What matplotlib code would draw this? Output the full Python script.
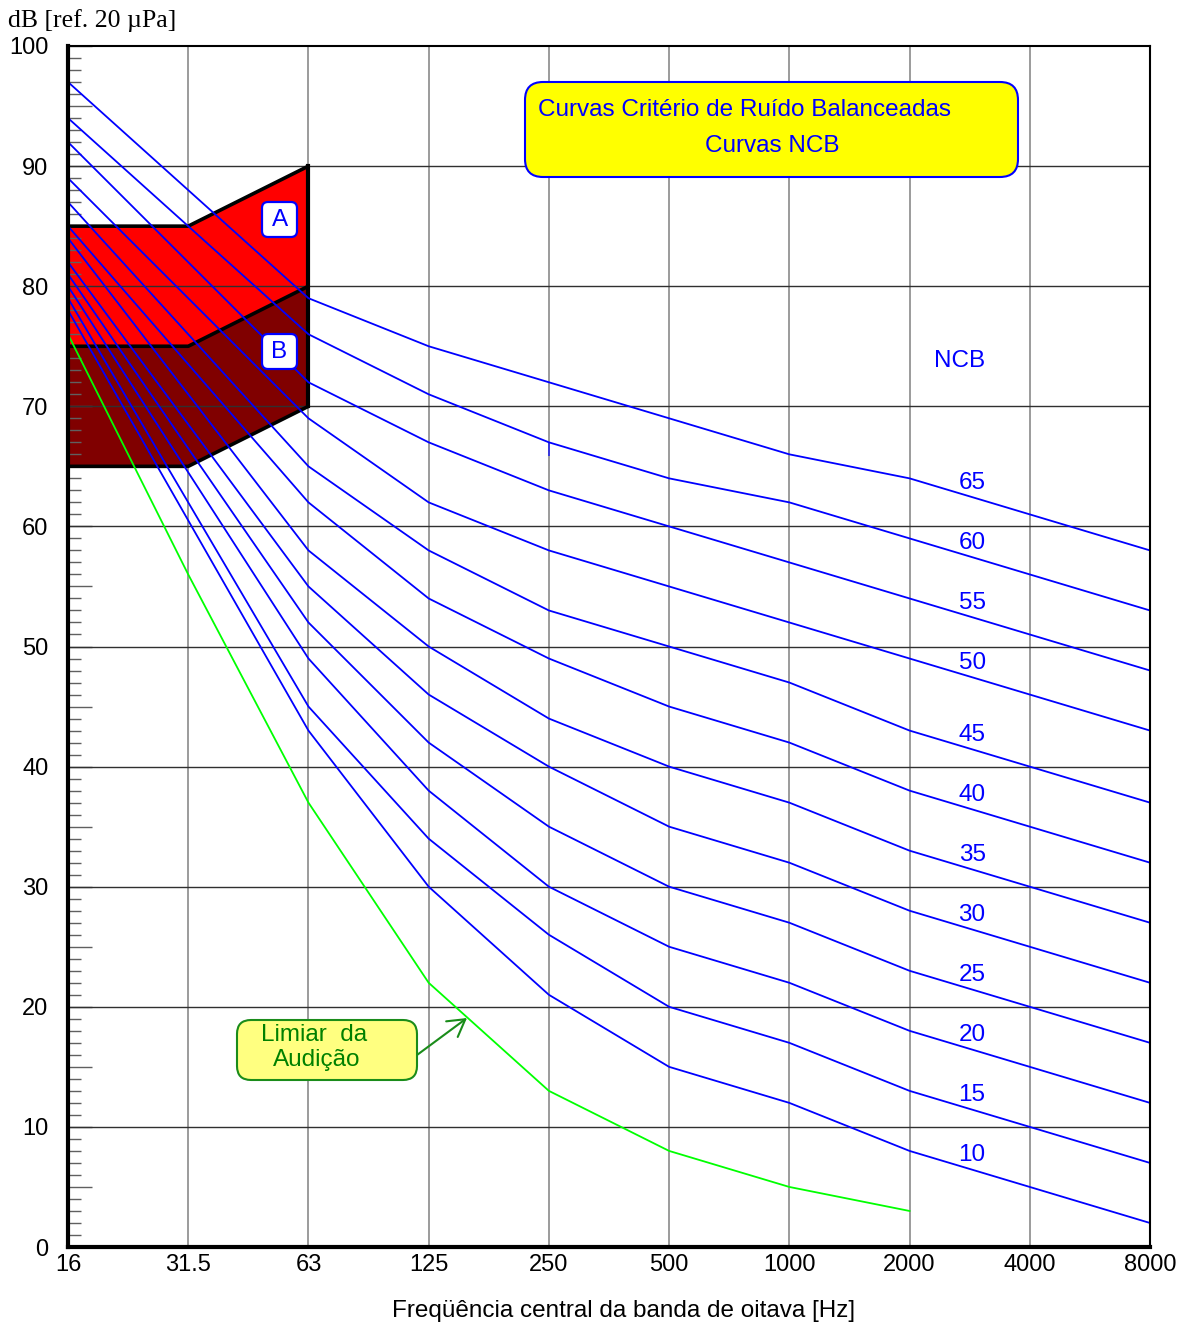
import matplotlib
matplotlib.use("Agg")
import matplotlib.pyplot as plt
import numpy as np
from matplotlib.patches import FancyBboxPatch, Polygon
from matplotlib.transforms import IdentityTransform
from matplotlib.ticker import MultipleLocator, FuncFormatter

# ---------------- data ----------------
freq_labels = ["16", "31.5", "63", "125", "250", "500", "1000", "2000", "4000", "8000"]
ncb_levels = [65, 60, 55, 50, 45, 40, 35, 30, 25, 20, 15, 10]
ncb65 = [97, 88, 79, 75, 72, 69, 66, 64, 61, 58]
ncb60 = [94, 85, 76, 71, 67, 64, 62, 59, 56, 53]
ncb55 = [92, 82, 72, 67, 63, 60, 57, 54, 51, 48]
ncb50 = [89, 79, 69, 62, 58, 55, 52, 49, 46, 43]
ncb45 = [87, 76, 65, 58, 53, 50, 47, 43, 40, 37]
ncb40 = [85, 73.5, 62, 54, 49, 45, 42, 38, 35, 32]
ncb35 = [84, 71, 58, 50, 44, 40, 37, 33, 30, 27]
ncb30 = [82, 68.5, 55, 46, 40, 35, 32, 28, 25, 22]
ncb25 = [81, 66.5, 52, 42, 35, 30, 27, 23, 20, 17]
ncb20 = [80, 64.5, 49, 38, 30, 25, 22, 18, 15, 12]
ncb15 = [79, 62, 45, 34, 26, 20, 17, 13, 10, 7]
ncb10 = [78, 60.5, 43, 30, 21, 15, 12, 8, 5, 2]
ncb_curves = [ncb65, ncb60, ncb55, ncb50, ncb45, ncb40, ncb35, ncb30, ncb25, ncb20, ncb15, ncb10]

threshold_freq_idx = [0, 1, 2, 3, 4, 5, 6, 7]
threshold_db = [76, 56, 37, 22, 13, 8, 5, 3]

region_x = [0, 1, 2]
regionA_top = [85, 85, 90]
regionA_bottom = [75, 75, 80]
regionB_top = [75, 75, 80]
regionB_bottom = [65, 65, 70]

# ---------------- style ----------------
W, H = 1177, 1325
plt.rcParams['font.family'] = ['Liberation Sans', 'DejaVu Sans']
BLUE = '#0000FF'
FS = 17.5

fig = plt.figure(figsize=(W / 100, H / 100), dpi=100)
ax = fig.add_axes([68 / W, 1 - 1247 / H, (1150 - 68) / W, (1247 - 46) / H])
x = np.arange(len(freq_labels))

ax.set_xlim(0, len(freq_labels) - 1)
ax.set_ylim(0, 100)

# vertical grid (below regions)
for xi in x[1:-1]:
    ax.axvline(xi, color='#808080', lw=1.1, zorder=0.5)

# regions
def region(top, bottom, color):
    xs = list(region_x) + list(region_x[::-1])
    ys = list(top) + list(bottom[::-1])
    ax.add_patch(Polygon(np.column_stack([xs, ys]), closed=True, fc=color, ec='none', zorder=1))

region(regionA_top, regionA_bottom, '#FF0000')
region(regionB_top, regionB_bottom, '#800000')
for edge in (regionA_top, regionA_bottom, regionB_bottom):
    ax.plot(region_x, edge, color='black', lw=2.6, zorder=3, solid_capstyle='butt')
ax.plot([region_x[-1], region_x[-1]], [regionA_top[-1], regionB_bottom[-1]], color='black', lw=3.0, zorder=3)

# horizontal grid (above regions)
for yv in range(10, 100, 10):
    ax.axhline(yv, color='#303030', lw=1.0, zorder=2)

# NCB curves
for lev, c in zip(ncb_levels, ncb_curves):
    ax.plot(x, c, color=BLUE, lw=1.3, zorder=4)
    xl = 7.52
    yl = np.interp(xl, x, c) + 1.2
    ax.text(xl, yl, str(lev), color=BLUE, fontsize=FS, ha='center', va='center', zorder=5)
# small artefact stroke on NCB 60 at 250 Hz
ax.vlines(4, ncb60[4] - 1.1, ncb60[4], color=BLUE, lw=1.3, alpha=0.7, zorder=4)

ax.text(7.42, 73.8, "NCB", color=BLUE, fontsize=FS, ha='center', va='center', zorder=5)

# hearing threshold
ax.plot(threshold_freq_idx, threshold_db, color='#00FF00', lw=1.3, zorder=4)

# axes styling
ax.set_xticks(x)
ax.set_xticklabels(freq_labels)
ax.yaxis.set_major_locator(MultipleLocator(5))
ax.yaxis.set_minor_locator(MultipleLocator(1))
ax.yaxis.set_major_formatter(FuncFormatter(lambda v, p: f"{int(v)}" if int(round(v)) % 10 == 0 else ""))
ax.tick_params(axis='y', which='major', direction='in', length=17, width=1.0, color='#606060', labelsize=17, pad=14)
ax.tick_params(axis='y', which='minor', direction='in', length=9, width=1.0, color='#606060')
ax.tick_params(axis='x', which='major', length=0, labelsize=17, pad=5)
for s in ('left', 'bottom'):
    ax.spines[s].set_linewidth(3.0)
for s in ('top', 'right'):
    ax.spines[s].set_linewidth(1.5)
for s in ax.spines.values():
    s.set_zorder(6)

# ---------------- annotations (figure pixels) ----------------
def pbox(x0, y0, x1, y1, fc, ec, lw, r):
    p = FancyBboxPatch((x0, H - y1), x1 - x0, y1 - y0,
                       boxstyle=f"round,pad=0,rounding_size={r}",
                       fc=fc, ec=ec, lw=lw, transform=IdentityTransform(), zorder=10)
    fig.add_artist(p)

def ptext(px_, py_, s, color, ha='center', size=FS, family=None):
    kw = {}
    if family:
        kw['family'] = family
    fig.text(px_ / W, 1 - py_ / H, s, color=color, fontsize=size, ha=ha, va='center', zorder=11, **kw)

pbox(525, 82, 1018, 177, '#FFFF00', BLUE, 1.5, 18)
ptext(538, 110, "Curvas Critério de Ruído Balanceadas", BLUE, ha='left')
ptext(772, 146, "Curvas NCB", BLUE)

pbox(262, 202, 297, 237, 'white', BLUE, 1.6, 6)
ptext(280, 220, "A", BLUE)
pbox(262, 334, 297, 369, 'white', BLUE, 1.6, 6)
ptext(279, 352, "B", BLUE)

pbox(237, 1020, 417, 1080, '#FFFF80', '#1A8C1A', 1.5, 14)
ptext(314, 1035, "Limiar  da", '#008000')
ptext(317, 1060, "Audição", '#008000')
ax.annotate('', xy=(467, H - 1018), xytext=(417, H - 1055), xycoords='figure pixels',
            textcoords='figure pixels',
            arrowprops=dict(arrowstyle='->,head_length=0.6,head_width=0.35', color='#1A8C1A',
                            lw=1.5, shrinkA=0, shrinkB=0, mutation_scale=20), zorder=11)

ptext(8, 21, "dB [ref. 20 µPa]", '#000000', ha='left', size=18.5, family=['Liberation Serif', 'DejaVu Serif'])
ptext(624, 1311, "Freqüência central da banda de oitava [Hz]", '#000000')

fig.savefig("out.png", dpi=100)
